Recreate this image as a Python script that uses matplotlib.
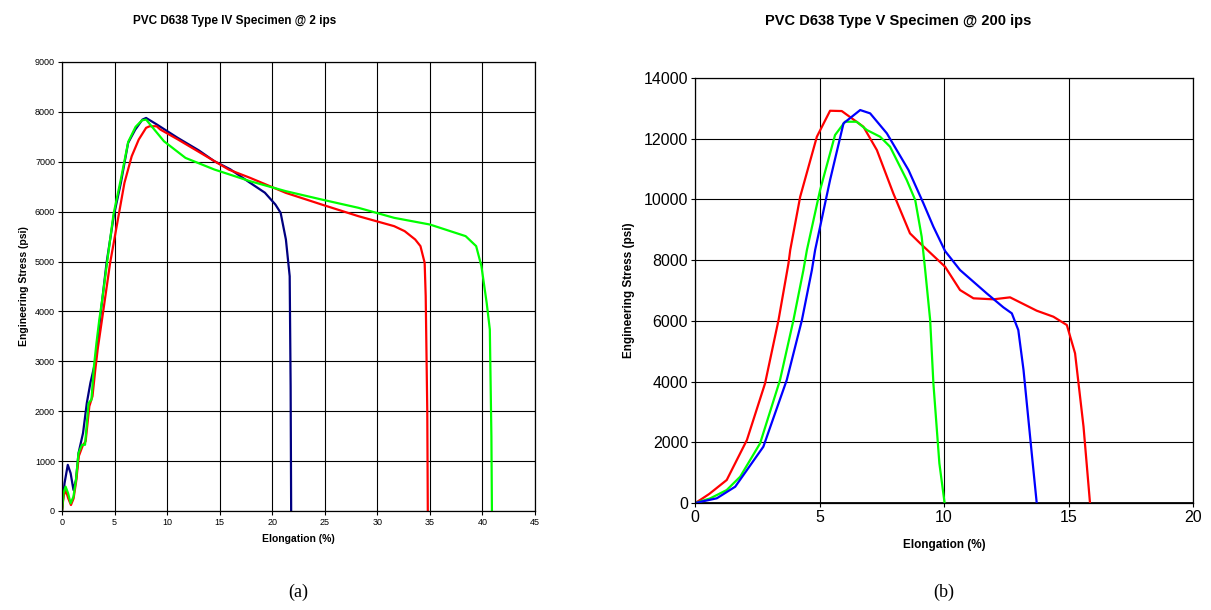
import matplotlib
matplotlib.use("Agg")
import matplotlib.pyplot as plt

plt.rcParams['font.family'] = ['Liberation Sans', 'DejaVu Sans']

# (a) Type IV specimen @ 2 ips -- elongation (%), stress (psi)
a_blue_x = [0, 0.24, 0.55, 0.82, 1.09, 1.33, 1.57, 2.0, 2.36, 2.7, 3.14, 3.48, 3.72,
            4.24, 4.92, 5.6, 6.29, 6.97, 7.65, 8.0, 9.0, 11.0, 13.0, 14.5, 16.0, 17.9,
            19.3, 20.3, 20.8, 21.3, 21.66, 21.75, 21.8]
a_blue_y = [0, 556, 925, 757, 422, 623, 1159, 1561, 2164, 2566, 2968, 3571, 4040,
            4975, 5910, 6577, 7378, 7645, 7845, 7878, 7750, 7480, 7230, 7010, 6850, 6577,
            6380, 6143, 5976, 5442, 4707, 2500, 0]

a_red_x = [0, 0.15, 0.35, 0.6, 0.85, 1.1, 1.35, 1.6, 1.95, 2.25, 2.6, 2.9, 3.15, 3.4,
           3.9, 4.58, 5.26, 5.94, 6.63, 7.3, 8.0, 8.34, 9.0, 9.36, 11.0, 13.0, 15.85,
           17.9, 21.3, 24.7, 28.2, 29.9, 31.6, 32.6, 33.6, 34.1, 34.5, 34.6, 34.75, 34.8]
a_red_y = [0, 300, 420, 250, 120, 250, 600, 1100, 1300, 1400, 2100, 2300, 2800, 3250,
           3973, 4975, 5776, 6577, 7110, 7445, 7680, 7712, 7712, 7645, 7450, 7200, 6844,
           6677, 6376, 6143, 5909, 5809, 5709, 5609, 5442, 5309, 4975, 4307, 2000, 0]

a_green_x = [0, 0.14, 0.34, 0.58, 0.82, 1.09, 1.33, 1.57, 1.9, 2.19, 2.53, 2.8, 3.04,
             3.28, 3.55, 3.83, 4.3, 4.9, 5.6, 6.3, 7.0, 7.6, 8.0, 9.7, 11.75, 14.5, 17.9,
             21.3, 24.7, 28.2, 31.6, 35.0, 38.4, 39.4, 39.9, 40.4, 40.7, 40.85, 40.9]
a_green_y = [0, 355, 489, 355, 154, 288, 623, 1159, 1327, 1327, 2164, 2231, 2901,
             3370, 3839, 4241, 5000, 5950, 6650, 7400, 7700, 7830, 7845, 7411, 7077, 6844, 6610,
             6410, 6243, 6077, 5876, 5742, 5509, 5309, 4908, 4173, 3640, 1500, 0]

# (b) Type V specimen @ 200 ips
b_red_x = [0, 0.2, 0.57, 1.27, 2.08, 2.81, 3.35, 3.75, 3.82, 4.22, 4.89, 5.42, 5.89,
           6.76, 7.3, 7.96, 8.63, 9.04, 10.04, 10.64, 11.18, 11.98, 12.65, 13.72, 14.39,
           14.93, 15.26, 15.6, 15.86]
b_red_y = [0, 99, 300, 758, 2075, 3943, 6028, 7895, 8333, 10089, 12066, 12922, 12912,
           12395, 11627, 10201, 8883, 8554, 7783, 7016, 6743, 6710, 6775, 6335, 6137,
           5863, 4931, 2513, 0]

b_green_x = [0, 0.6, 1.27, 1.81, 2.61, 3.41, 3.95, 4.35, 4.49, 5.02, 5.62, 6.02, 6.49,
             6.9, 7.43, 7.83, 8.5, 8.84, 9.1, 9.24, 9.44, 9.57, 9.81, 10.02]
b_green_y = [0, 150, 428, 866, 1966, 4051, 6028, 7675, 8333, 10310, 12121, 12560, 12560,
             12286, 12066, 11736, 10639, 9980, 8771, 7675, 6028, 3943, 1308, 0]

b_blue_x = [0, 0.87, 1.61, 2.74, 3.68, 4.29, 4.69, 4.82, 5.42, 5.96, 6.63, 7.03, 7.7,
            8.57, 9.17, 9.57, 10.04, 10.64, 11.71, 12.38, 12.72, 12.98, 13.19, 13.52, 13.72]
b_blue_y = [0, 155, 537, 1854, 4051, 6028, 7675, 8333, 10639, 12507, 12945, 12836, 12178,
            10969, 9871, 9101, 8300, 7675, 6907, 6446, 6248, 5698, 4381, 1637, 0]


def style_axes(ax, xmax, xstep, ymax, ystep, tick_size):
    ax.set_xlim(0, xmax)
    ax.set_ylim(0, ymax)
    ax.set_xticks(range(0, xmax + 1, xstep))
    ax.set_yticks(range(0, ymax + 1, ystep))
    ax.grid(True, color='black', linewidth=0.8)
    ax.set_axisbelow(True)
    ax.tick_params(direction='out', length=3, width=0.8, labelsize=tick_size, pad=2)
    for sp in ax.spines.values():
        sp.set_linewidth(0.9)
        sp.set_color('black')


fig = plt.figure(figsize=(12.11, 6.10), dpi=100)

ax1 = fig.add_axes([0.0512, 0.1623, 0.3906, 0.7361])
ax1.plot(a_blue_x, a_blue_y, color='#000080', lw=1.6)
ax1.plot(a_red_x, a_red_y, color='#ff0000', lw=1.6)
ax1.plot(a_green_x, a_green_y, color='#00ff00', lw=1.6)
style_axes(ax1, 45, 5, 9000, 1000, 6.5)
ax1.set_xlabel('Elongation (%)', fontsize=7.5, fontweight='bold', labelpad=5)
ax1.set_ylabel('Engineering Stress (psi)', fontsize=7.5, fontweight='bold', labelpad=4)
fig.text(0.194, 0.966, 'PVC D638 Type IV Specimen @ 2 ips', fontsize=8.5,
         fontweight='bold', ha='center', va='center')
fig.text(0.246, 0.029, '(a)', fontsize=13, family='Liberation Serif',
         ha='center', va='center')

ax2 = fig.add_axes([0.574, 0.1754, 0.4112, 0.6967])
ax2.plot(b_red_x, b_red_y, color='#ff0000', lw=1.6)
ax2.plot(b_green_x, b_green_y, color='#00ff00', lw=1.6)
ax2.plot(b_blue_x, b_blue_y, color='#0000ff', lw=1.6)
style_axes(ax2, 20, 5, 14000, 2000, 11.5)
ax2.axhline(0, color='black', lw=2, zorder=1)
ax2.set_xlabel('Elongation (%)', fontsize=8.5, fontweight='bold', labelpad=10)
ax2.set_ylabel('Engineering Stress (psi)', fontsize=8.5, fontweight='bold', labelpad=6)
fig.text(0.742, 0.966, 'PVC D638 Type V Specimen @ 200 ips', fontsize=10.5,
         fontweight='bold', ha='center', va='center')
fig.text(0.779, 0.029, '(b)', fontsize=13, family='Liberation Serif',
         ha='center', va='center')

fig.savefig('out.png', dpi=100)
